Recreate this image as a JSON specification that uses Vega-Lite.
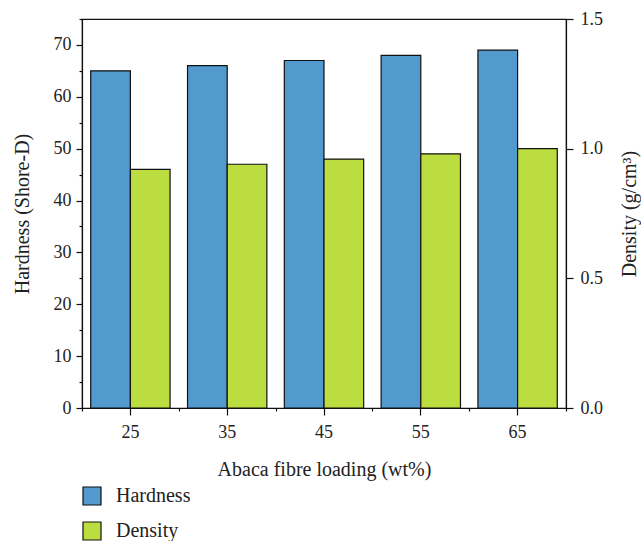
{
  "$schema": "https://vega.github.io/schema/vega-lite/v6.json",
  "width": 484,
  "height": 389,
  "autosize": {"type": "none"},
  "padding": {"left": 82, "top": 19, "right": 75, "bottom": 133},
  "background": "white",
  "config": {
    "font": "Liberation Serif",
    "view": {"stroke": "#111", "strokeWidth": 1.2},
    "axis": {
      "labelFont": "Liberation Serif",
      "titleFont": "Liberation Serif",
      "labelFontSize": 18,
      "titleFontSize": 20,
      "titleFontWeight": "normal",
      "labelColor": "#222",
      "titleColor": "#222",
      "domainColor": "#111",
      "tickColor": "#111",
      "domainWidth": 1.2,
      "tickWidth": 1.2,
      "grid": false
    },
    "legend": {
      "labelFont": "Liberation Serif",
      "labelFontSize": 20,
      "labelColor": "#222"
    }
  },
  "data": {
    "values": [
      {"loading": 25, "property": "Hardness", "value": 65},
      {"loading": 35, "property": "Hardness", "value": 66},
      {"loading": 45, "property": "Hardness", "value": 67},
      {"loading": 55, "property": "Hardness", "value": 68},
      {"loading": 65, "property": "Hardness", "value": 69},
      {"loading": 25, "property": "Density", "value": 0.92},
      {"loading": 35, "property": "Density", "value": 0.94},
      {"loading": 45, "property": "Density", "value": 0.96},
      {"loading": 55, "property": "Density", "value": 0.98},
      {"loading": 65, "property": "Density", "value": 1.0}
    ]
  },
  "layer": [
    {
      "transform": [{"filter": "datum.property === 'Hardness'"}],
      "mark": {"type": "bar", "stroke": "#111", "strokeWidth": 1.2},
      "encoding": {
        "x": {
          "field": "loading",
          "type": "ordinal",
          "scale": {"paddingInner": 0, "paddingOuter": 0},
          "axis": {
            "orient": "bottom",
            "title": "Abaca fibre loading (wt%)",
            "labelAngle": 0,
            "tickSize": 7,
            "labelPadding": 8,
            "titlePadding": 18
          }
        },
        "xOffset": {
          "field": "property",
          "type": "nominal",
          "scale": {"domain": ["Hardness", "Density"], "paddingInner": 0, "paddingOuter": 0.22}
        },
        "y": {
          "field": "value",
          "type": "quantitative",
          "scale": {"domain": [0, 75], "nice": false},
          "axis": {
            "orient": "left",
            "title": "Hardness (Shore-D)",
            "values": [0, 5, 10, 15, 20, 25, 30, 35, 40, 45, 50, 55, 60, 65, 70, 75],
            "labelExpr": "datum.value % 10 === 0 ? datum.label : ''",
            "tickSize": {"condition": {"test": "datum.value % 10 === 0", "value": 6}, "value": 3},
            "labelPadding": 5,
            "titlePadding": 21
          }
        },
        "color": {
          "field": "property",
          "type": "nominal",
          "scale": {"domain": ["Hardness", "Density"], "range": ["#5299CD", "#BBDD40"]},
          "legend": {
            "orient": "none",
            "legendX": 0,
            "legendY": 467,
            "direction": "vertical",
            "title": null,
            "symbolType": "square",
            "symbolSize": 324,
            "symbolStrokeColor": "#111",
            "symbolStrokeWidth": 1.2,
            "symbolOpacity": 1,
            "labelOffset": 14,
            "rowPadding": 11
          }
        }
      }
    },
    {
      "transform": [{"filter": "datum.property === 'Density'"}],
      "mark": {"type": "bar", "stroke": "#111", "strokeWidth": 1.2},
      "encoding": {
        "x": {
          "field": "loading",
          "type": "ordinal",
          "scale": {"paddingInner": 0, "paddingOuter": 0},
          "axis": {
            "orient": "bottom",
            "tickBand": "extent",
            "tickSize": 3,
            "labels": false,
            "title": null,
            "domain": false
          }
        },
        "xOffset": {
          "field": "property",
          "type": "nominal",
          "scale": {"domain": ["Hardness", "Density"], "paddingInner": 0, "paddingOuter": 0.22}
        },
        "y": {
          "field": "value",
          "type": "quantitative",
          "scale": {"domain": [0, 1.5], "nice": false},
          "axis": {
            "orient": "right",
            "title": "Density (g/cm³)",
            "values": [0, 0.5, 1, 1.5],
            "format": ".1f",
            "tickSize": 7,
            "labelPadding": 7,
            "titleAngle": -90,
            "titleBaseline": "top",
            "titlePadding": 17
          }
        },
        "color": {
          "field": "property",
          "type": "nominal",
          "scale": {"domain": ["Hardness", "Density"], "range": ["#5299CD", "#BBDD40"]}
        }
      }
    }
  ],
  "resolve": {"scale": {"y": "independent"}, "axis": {"x": "independent"}}
}
